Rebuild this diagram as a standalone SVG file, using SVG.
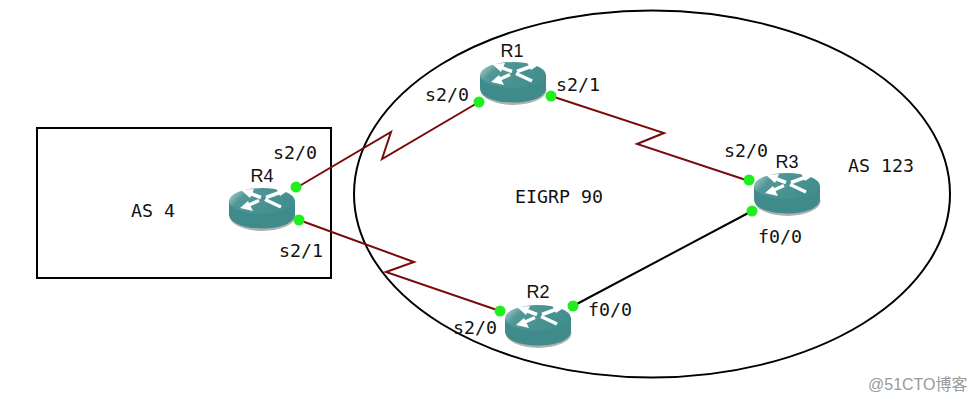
<svg xmlns="http://www.w3.org/2000/svg" width="976" height="402" viewBox="0 0 976 402">
<style>
.l{font-family:"DejaVu Sans Mono","Liberation Mono",monospace;font-size:18.27px;fill:#111}
.n{font-family:"Liberation Sans",Arial,sans-serif;font-size:18px;fill:#111;text-anchor:middle}
.ser{fill:none;stroke:#7b0b0b;stroke-width:2}
.eth{fill:none;stroke:#000;stroke-width:2}
.dot{fill:#1fef1f}
.area{fill:none;stroke:#000;stroke-width:2}
.body{fill:#3f8a8a}
.bar{fill:none;stroke:#fff;stroke-width:3.500}
.arw{fill:#fff}
</style>
<defs>
<linearGradient id="g" x1="0" x2="1" y1="0" y2="0.4"><stop offset="0" stop-color="#c2dcdc"/><stop offset="0.3" stop-color="#519797"/><stop offset="1" stop-color="#418e8e"/></linearGradient>
<g id="router">
<ellipse cx="33.500" cy="29" rx="33" ry="15" fill="#b0b0b0"/>
<path class="body" d="M0 14V27C0 36 15 41.500 33 41.500S66 36 66 27V14Z"/>
<ellipse cx="33" cy="14" rx="33" ry="13" fill="url(#g)"/>
<path class="bar" d="M20 6L32 10.500M52 5 37 10.500M20 18 30 13.500M52 20 36 12.500"/>
<path class="arw" d="M12 3 25 2 21 11ZM60 3 47 1 51 9ZM11 21 24 24 19 14Z"/>
</g>
</defs>
<rect width="976" height="402" fill="#fff"/>
<g id="areas">
<rect class="area" x="37" y="128" width="294" height="150"/>
<ellipse class="area" cx="652" cy="194" rx="298" ry="183.500"/>
</g>
<g id="connectors">
<path class="ser" d="M296 188L391 132 382 159 479 102"/>
<path class="ser" d="M551 96L664 133 637 144 749 181"/>
<path class="ser" d="M299 220L414 262 386 272 500 311"/>
<path class="eth" d="M573 306L752 211"/>
</g>
<g id="R1"><use href="#router" x="480" y="61"/><text class="n" x="512" y="57">R1</text><circle class="dot" cx="479" cy="102" r="5.500"/><circle class="dot" cx="551" cy="96" r="5.500"/></g>
<g id="R2"><use href="#router" x="505" y="304"/><text class="n" x="538" y="298">R2</text><circle class="dot" cx="500" cy="311" r="5.500"/><circle class="dot" cx="573" cy="306" r="5.500"/></g>
<g id="R3"><use href="#router" x="754" y="172"/><text class="n" x="787" y="168">R3</text><circle class="dot" cx="749" cy="180" r="5.500"/><circle class="dot" cx="752" cy="211" r="5.500"/></g>
<g id="R4"><use href="#router" x="229" y="187"/><text class="n" x="262" y="182">R4</text><circle class="dot" cx="296" cy="187" r="5.500"/><circle class="dot" cx="299" cy="220" r="5.500"/></g>
<g id="labels">
<text class="l" x="425" y="101">s2/0</text>
<text class="l" x="556" y="91">s2/1</text>
<text class="l" x="273" y="159">s2/0</text>
<text class="l" x="279" y="257">s2/1</text>
<text class="l" x="724" y="157">s2/0</text>
<text class="l" x="758" y="243">f0/0</text>
<text class="l" x="588" y="316">f0/0</text>
<text class="l" x="453" y="334">s2/0</text>
<text class="l" x="131" y="217">AS 4</text>
<text class="l" x="848" y="172">AS 123</text>
<text class="l" x="515" y="203">EIGRP 90</text>
<text x="868" y="390" style="font-family:'Liberation Sans','Noto Sans CJK SC',sans-serif;font-size:16px;fill:#999">@51CTO博客</text>
</g>
</svg>
